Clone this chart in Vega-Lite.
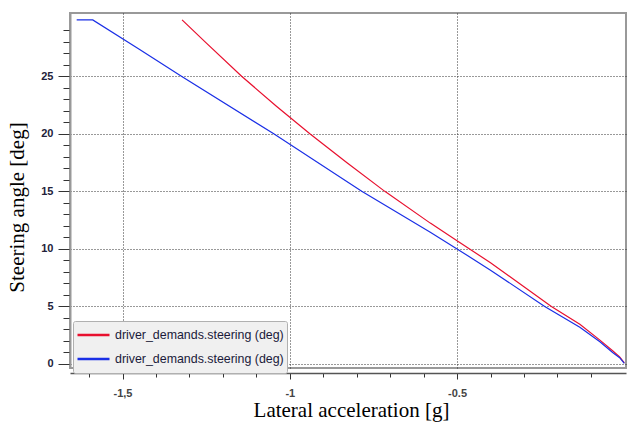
{
  "$schema": "https://vega.github.io/schema/vega-lite/v6.json",
  "width": 556,
  "height": 355,
  "autosize": "none",
  "padding": {"left": 70, "top": 13, "right": 3, "bottom": 64},
  "background": "white",
  "config": {"view": {"stroke": "#999999", "strokeWidth": 2}},
  "data": {"values": [
    {"series": "a", "ax": -1.322, "deg": 29.9},
    {"series": "a", "ax": -1.25, "deg": 27.9},
    {"series": "a", "ax": -1.144, "deg": 25.0},
    {"series": "a", "ax": -1.04, "deg": 22.4},
    {"series": "a", "ax": -0.94, "deg": 20.0},
    {"series": "a", "ax": -0.83, "deg": 17.5},
    {"series": "a", "ax": -0.716, "deg": 15.0},
    {"series": "a", "ax": -0.58, "deg": 12.24},
    {"series": "a", "ax": -0.5, "deg": 10.7},
    {"series": "a", "ax": -0.4, "deg": 8.8},
    {"series": "a", "ax": -0.3, "deg": 6.72},
    {"series": "a", "ax": -0.218, "deg": 5.0},
    {"series": "a", "ax": -0.133, "deg": 3.45},
    {"series": "a", "ax": -0.073, "deg": 2.07},
    {"series": "a", "ax": -0.035, "deg": 1.15},
    {"series": "a", "ax": -0.014, "deg": 0.62},
    {"series": "a", "ax": 0.0, "deg": 0.1},
    {"series": "b", "ax": -1.637, "deg": 29.9},
    {"series": "b", "ax": -1.589, "deg": 29.9},
    {"series": "b", "ax": -1.45, "deg": 27.35},
    {"series": "b", "ax": -1.324, "deg": 25.0},
    {"series": "b", "ax": -1.048, "deg": 20.0},
    {"series": "b", "ax": -0.785, "deg": 15.0},
    {"series": "b", "ax": -0.58, "deg": 11.45},
    {"series": "b", "ax": -0.5, "deg": 10.0},
    {"series": "b", "ax": -0.4, "deg": 8.15},
    {"series": "b", "ax": -0.238, "deg": 5.0},
    {"series": "b", "ax": -0.133, "deg": 3.2},
    {"series": "b", "ax": -0.073, "deg": 1.93},
    {"series": "b", "ax": -0.035, "deg": 1.0},
    {"series": "b", "ax": -0.014, "deg": 0.55},
    {"series": "b", "ax": 0.0, "deg": 0.05}
  ]},
  "mark": {"type": "line", "strokeWidth": 1.2, "clip": true},
  "encoding": {
    "x": {
      "field": "ax", "type": "quantitative",
      "scale": {"domain": [-1.657, 0.005], "nice": false, "zero": false},
      "axis": {
        "values": [-1.6, -1.5, -1.4, -1.3, -1.2, -1.1, -1, -0.9, -0.8, -0.7, -0.6, -0.5, -0.4, -0.3, -0.2, -0.1],
        "labelExpr": "datum.value == -1.5 ? '-1,5' : datum.value == -1 ? '-1' : datum.value == -0.5 ? '-0.5' : ''",
        "offset": 5,
        "domainColor": "#555555",
        "domainWidth": 1.5,
        "tickColor": "#333333",
        "tickSize": {"condition": {"test": "datum.value == -1.5 || datum.value == -1 || datum.value == -0.5", "value": 6}, "value": 4},
        "grid": true,
        "gridColor": "#333333",
        "gridDash": [1, 2],
        "gridOpacity": {"condition": {"test": "datum.value == -1.5 || datum.value == -1 || datum.value == -0.5", "value": 1}, "value": 0},
        "labelFont": "Liberation Sans",
        "labelFontSize": 11,
        "labelFontWeight": "bold",
        "labelColor": "#444444",
        "labelPadding": 8,
        "title": "Lateral acceleration [g]",
        "titleFont": "Liberation Serif",
        "titleFontSize": 21,
        "titleFontWeight": "normal",
        "titleColor": "#000000",
        "titleBaseline": "middle",
        "titleY": 37,
        "titleX": 281
      }
    },
    "y": {
      "field": "deg", "type": "quantitative",
      "scale": {"domain": [-0.35, 30.5], "nice": false, "zero": false},
      "axis": {
        "values": [0, 1, 2, 3, 4, 5, 6, 7, 8, 9, 10, 11, 12, 13, 14, 15, 16, 17, 18, 19, 20, 21, 22, 23, 24, 25, 26, 27, 28, 29],
        "labelExpr": "datum.value % 5 == 0 ? datum.label : ''",
        "domainColor": "#999999",
        "domainWidth": 2,
        "tickColor": "#333333",
        "tickSize": {"condition": {"test": "datum.value % 5 == 0", "value": 12}, "value": 7},
        "grid": true,
        "gridColor": "#333333",
        "gridDash": [1, 2],
        "gridOpacity": {"condition": {"test": "datum.value % 5 == 0", "value": 1}, "value": 0},
        "labelFont": "Liberation Sans",
        "labelFontSize": 11,
        "labelFontWeight": "bold",
        "labelColor": "#22223a",
        "labelPadding": 5,
        "title": "Steering angle [deg]",
        "titleFont": "Liberation Serif",
        "titleFontSize": 21,
        "titleFontWeight": "normal",
        "titleColor": "#000000",
        "titleAngle": -90,
        "titleBaseline": "middle",
        "titleX": -53,
        "titleY": 194
      }
    },
    "color": {
      "field": "series", "type": "nominal",
      "scale": {"domain": ["a", "b"], "range": ["#e8102e", "#1a2fe6"]},
      "legend": {
        "title": null,
        "orient": "none",
        "legendX": 3,
        "legendY": 308,
        "labelExpr": "'driver_demands.steering (deg)'",
        "symbolType": "stroke",
        "symbolSize": 1024,
        "symbolStrokeWidth": 2.5,
        "clipHeight": 22,
        "rowPadding": 2,
        "padding": 3,
        "fillColor": "#f0f0f0",
        "strokeColor": "#b0b0b0",
        "cornerRadius": 2,
        "labelFont": "Liberation Sans",
        "labelFontSize": 12.4,
        "labelColor": "#1a1a3a",
        "labelOffset": 4,
        "labelLimit": 300
      }
    }
  }
}
